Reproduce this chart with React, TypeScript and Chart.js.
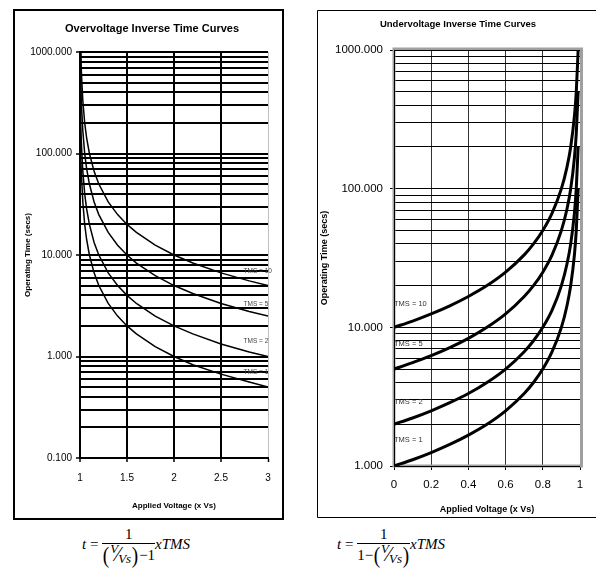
import React, { useEffect, useRef } from 'react';
import { Chart, registerables } from 'chart.js';

Chart.register(...registerables);

const FONT = 'Arial, "Liberation Sans", sans-serif';
const SERIF = '"Liberation Serif", "Times New Roman", serif';

// ---------- Overvoltage data ----------
const overVoltage = [1.001, 1.002, 1.005, 1.01, 1.02, 1.03, 1.05, 1.07, 1.1, 1.15, 1.2, 1.3, 1.4, 1.5, 1.6, 1.8, 2.0, 2.2, 2.5, 2.8, 3.0];
const overTms10 = [10000, 5000, 2000, 1000, 500, 333, 200, 143, 100, 66.7, 50, 33.3, 25, 20, 16.7, 12.5, 10, 8.33, 6.67, 5.56, 5];
const overTms5 = [5000, 2500, 1000, 500, 250, 167, 100, 71.4, 50, 33.3, 25, 16.7, 12.5, 10, 8.33, 6.25, 5, 4.17, 3.33, 2.78, 2.5];
const overTms2 = [2000, 1000, 400, 200, 100, 66.7, 40, 28.6, 20, 13.3, 10, 6.67, 5, 4, 3.33, 2.5, 2, 1.67, 1.33, 1.11, 1];
const overTms1 = [1000, 500, 200, 100, 50, 33.3, 20, 14.3, 10, 6.67, 5, 3.33, 2.5, 2, 1.67, 1.25, 1, 0.83, 0.67, 0.56, 0.5];
const overXTicks = [1, 1.5, 2, 2.5, 3];
const overDecades = [0.1, 1, 10, 100];
const overYMax = 1000;
const overLabels = ['TMS = 10', 'TMS = 5', 'TMS = 2', 'TMS = 1'];
const overLabelX = [2.74, 2.74, 2.74, 2.74];
const overLabelY = [7.0, 3.3, 1.4, 0.7];

// ---------- Undervoltage data ----------
const underVoltage = [0, 0.1, 0.2, 0.3, 0.4, 0.5, 0.6, 0.7, 0.75, 0.8, 0.85, 0.9, 0.93, 0.95, 0.97, 0.98, 0.99];
const underTms10 = [10, 11.1, 12.5, 14.3, 16.7, 20, 25, 33.3, 40, 50, 66.7, 100, 143, 200, 333, 500, 1000];
const underTms5 = [5, 5.56, 6.25, 7.14, 8.33, 10, 12.5, 16.7, 20, 25, 33.3, 50, 71.4, 100, 167, 250, 500];
const underTms2 = [2, 2.22, 2.5, 2.86, 3.33, 4, 5, 6.67, 8, 10, 13.3, 20, 28.6, 40, 66.7, 100, 200];
const underTms1 = [1, 1.11, 1.25, 1.43, 1.67, 2, 2.5, 3.33, 4, 5, 6.67, 10, 14.3, 20, 33.3, 50, 100];
const underXTicks = [0, 0.2, 0.4, 0.6, 0.8, 1];
const underDecades = [1, 10, 100];
const underYMax = 1000;
const underLabels = ['TMS = 10', 'TMS = 5', 'TMS = 2', 'TMS = 1'];
const underLabelX = [0, 0, 0, 0];
const underLabelY = [14.8, 7.6, 2.9, 1.54];

const minorSteps = [1, 2, 3, 4, 5, 6, 7, 8, 9];

const isDecade = (v: number) => {
  const l = Math.log10(v);
  return Math.abs(l - Math.round(l)) < 1e-9;
};

const logGrid = (decades: number[], max: number) => {
  const vals: number[] = [];
  decades.forEach((d) => minorSteps.forEach((m) => vals.push(d * m)));
  vals.push(max);
  return vals;
};

type Decor = {
  title: string;
  titleFont: string;
  titleX: number;
  titleY: number;
  frameWidth: number;
  frameAll: boolean;
  plotBorder: boolean;
  labels: string[];
  labelX: number[];
  labelY: number[];
  labelFont: string;
  labelColor: string;
};

const makeDecor = (d: Decor) => ({
  id: 'decor',
  beforeDatasetsDraw(chart: any) {
    if (!d.plotBorder) return;
    const { ctx, chartArea } = chart;
    ctx.save();
    ctx.strokeStyle = '#a0a0a0';
    ctx.lineWidth = 3;
    ctx.strokeRect(chartArea.left, chartArea.top - 1, chartArea.right - chartArea.left + 1.5, chartArea.bottom - chartArea.top + 1);
    ctx.restore();
    ctx.save();
    ctx.strokeStyle = '#000';
    ctx.lineWidth = 1;
    ctx.beginPath();
    ctx.moveTo(chartArea.left + 0.5, chartArea.top);
    ctx.lineTo(chartArea.left + 0.5, chartArea.bottom + 0.5);
    ctx.lineTo(chartArea.right, chartArea.bottom + 0.5);
    ctx.moveTo(chartArea.left, chartArea.top + 0.5);
    ctx.lineTo(chartArea.right, chartArea.top + 0.5);
    ctx.stroke();
    ctx.restore();
  },
  afterDraw(chart: any) {
    const { ctx, width, height } = chart;
    ctx.save();
    ctx.strokeStyle = '#000';
    const lw = d.frameWidth;
    ctx.lineWidth = lw;
    if (d.frameAll) {
      ctx.strokeRect(lw / 2, lw / 2, width - lw, height - lw);
    } else {
      ctx.beginPath();
      ctx.moveTo(width + 5, lw / 2);
      ctx.lineTo(lw / 2, lw / 2);
      ctx.lineTo(lw / 2, height - lw / 2);
      ctx.lineTo(width + 5, height - lw / 2);
      ctx.stroke();
    }
    ctx.fillStyle = '#000';
    ctx.font = d.titleFont;
    ctx.textAlign = 'center';
    ctx.textBaseline = 'middle';
    ctx.fillText(d.title, d.titleX, d.titleY);
    const xs = chart.scales.x;
    const ys = chart.scales.y;
    ctx.font = d.labelFont;
    ctx.fillStyle = d.labelColor;
    ctx.textAlign = 'left';
    d.labels.forEach((t, i) => {
      ctx.fillText(t, xs.getPixelForValue(d.labelX[i]), ys.getPixelForValue(d.labelY[i]));
    });
    ctx.restore();
  },
});

const series = (xs: number[], ys: number[]) => xs.map((x, i) => ({ x, y: ys[i] }));

function OverChart() {
  const ref = useRef<HTMLCanvasElement>(null);
  useEffect(() => {
    const yGrid = logGrid(overDecades, overYMax);
    const chart = new Chart(ref.current as HTMLCanvasElement, {
      type: 'scatter',
      data: {
        datasets: [overTms10, overTms5, overTms2, overTms1].map((arr) => ({
          data: series(overVoltage, arr),
          showLine: true,
          borderColor: '#000',
          borderWidth: 1.5,
          pointRadius: 0,
          fill: false,
        })),
      },
      options: {
        animation: false,
        responsive: false,
        devicePixelRatio: 1,
        events: [],
        layout: { padding: { left: 2, right: 16, top: 43, bottom: 7 } },
        plugins: { legend: { display: false }, tooltip: { enabled: false }, title: { display: false } },
        scales: {
          x: {
            type: 'linear',
            min: 1,
            max: 3,
            afterBuildTicks: (s: any) => { s.ticks = overXTicks.map((v) => ({ value: v })); },
            ticks: { autoSkip: false, maxRotation: 0, font: { size: 10, family: FONT }, color: '#000', padding: 10, callback: (v: any) => String(v) },
            grid: {
              color: (c: any) => (c.tick && c.tick.value === 3 ? '#c0c0c0' : '#000'),
              lineWidth: (c: any) => (c.tick && c.tick.value === 3 ? 1 : 2),
              tickLength: 4,
              tickColor: '#000',
              tickWidth: 1.5,
            },
            border: { color: '#000', width: 2 },
            title: { display: true, text: 'Applied Voltage (x Vs)', color: '#000', font: { size: 8, weight: 'bold', family: FONT, lineHeight: 1 }, padding: { top: 0, bottom: 3 } },
            afterFit: (s: any) => { s.height = 55; },
          },
          y: {
            type: 'logarithmic',
            min: 0.1,
            max: overYMax,
            afterBuildTicks: (s: any) => { s.ticks = yGrid.map((v) => ({ value: v })); },
            ticks: { autoSkip: false, font: { size: 10, family: FONT }, color: '#000', padding: 4, callback: (v: any) => (isDecade(Number(v)) ? Number(v).toFixed(3) : '') },
            grid: {
              color: '#000',
              lineWidth: 2,
              tickLength: 4,
              tickWidth: 1.5,
              tickColor: (c: any) => (c.tick && isDecade(c.tick.value) ? '#000' : 'rgba(0,0,0,0)'),
            },
            border: { color: '#000', width: 2 },
            title: { display: true, text: 'Operating Time (secs)', color: '#000', font: { size: 8, weight: 'bold', family: FONT, lineHeight: 1 }, padding: { top: 9, bottom: 0 } },
            afterFit: (s: any) => { s.width = 65; },
          },
        },
      } as any,
      plugins: [
        makeDecor({
          title: 'Overvoltage Inverse Time Curves',
          titleFont: `bold 11px ${FONT}`,
          titleX: 139,
          titleY: 20,
          frameWidth: 2,
          frameAll: true,
          plotBorder: false,
          labels: overLabels,
          labelX: overLabelX,
          labelY: overLabelY,
          labelFont: `6.5px ${FONT}`,
          labelColor: '#444',
        }) as any,
      ],
    });
    return () => chart.destroy();
  }, []);
  return <canvas ref={ref} width={271} height={511} style={{ position: 'absolute', left: 13, top: 9, width: 271, height: 511 }} />;
}

function UnderChart() {
  const ref = useRef<HTMLCanvasElement>(null);
  useEffect(() => {
    const yGrid = logGrid(underDecades, underYMax);
    const chart = new Chart(ref.current as HTMLCanvasElement, {
      type: 'scatter',
      data: {
        datasets: [underTms10, underTms5, underTms2, underTms1].map((arr) => ({
          data: series(underVoltage, arr),
          showLine: true,
          borderColor: '#000',
          borderWidth: 3,
          pointRadius: 0,
          fill: false,
          cubicInterpolationMode: 'monotone',
        })),
      },
      options: {
        animation: false,
        responsive: false,
        devicePixelRatio: 1,
        events: [],
        layout: { padding: { left: 1, right: 16, top: 40, bottom: 2 } },
        plugins: { legend: { display: false }, tooltip: { enabled: false }, title: { display: false } },
        scales: {
          x: {
            type: 'linear',
            min: 0,
            max: 1,
            afterBuildTicks: (s: any) => { s.ticks = underXTicks.map((v) => ({ value: v })); },
            ticks: { autoSkip: false, maxRotation: 0, font: { size: 11.5, family: FONT }, color: '#000', padding: 8, callback: (v: any) => String(v) },
            grid: {
              color: (c: any) => (c.tick && c.tick.value === 1 ? 'rgba(0,0,0,0)' : '#333'),
              lineWidth: 1,
              tickLength: 4,
              tickColor: '#000',
              tickWidth: 1,
            },
            border: { color: '#000', width: 1 },
            title: { display: true, text: 'Applied Voltage (x Vs)', color: '#000', font: { size: 9, weight: 'bold', family: FONT, lineHeight: 1 }, padding: { top: 0, bottom: 1.5 } },
            afterFit: (s: any) => { s.height = 50; },
          },
          y: {
            type: 'logarithmic',
            min: 1,
            max: underYMax,
            afterBuildTicks: (s: any) => { s.ticks = yGrid.map((v) => ({ value: v })); },
            ticks: { autoSkip: false, font: { size: 11.5, family: FONT }, color: '#000', padding: 7, callback: (v: any) => (isDecade(Number(v)) ? Number(v).toFixed(3) : '') },
            grid: {
              color: '#000',
              lineWidth: 1,
              tickLength: 4,
              tickWidth: 1,
              tickColor: (c: any) => (c.tick && isDecade(c.tick.value) ? '#000' : 'rgba(0,0,0,0)'),
            },
            border: { color: '#000', width: 1 },
            title: { display: true, text: 'Operating Time (secs)', color: '#000', font: { size: 9, weight: 'bold', family: FONT, lineHeight: 1 }, padding: { top: 2.5, bottom: 0 } },
            afterFit: (s: any) => { s.width = 76; },
          },
        },
      } as any,
      plugins: [
        makeDecor({
          title: 'Undervoltage Inverse Time Curves',
          titleFont: `bold 9.5px ${FONT}`,
          titleX: 141,
          titleY: 14,
          frameWidth: 1,
          frameAll: false,
          plotBorder: true,
          labels: underLabels,
          labelX: underLabelX,
          labelY: underLabelY,
          labelFont: `7.5px ${FONT}`,
          labelColor: '#333',
        }) as any,
      ],
    });
    return () => chart.destroy();
  }, []);
  return <canvas ref={ref} width={279} height={508} style={{ position: 'absolute', left: 317, top: 10, width: 279, height: 508 }} />;
}

// slanted fraction (V/Vs) wrapped in tall parentheses
const Slant = () => (
  <span style={{ display: 'inline-flex', alignItems: 'center', height: 22 }}>
    <span style={{ fontSize: 24, fontStyle: 'normal', lineHeight: '22px', transform: 'scaleX(0.8)', display: 'inline-block' }}>(</span>
    <span style={{ position: 'relative', display: 'inline-block', width: 21, height: 22 }}>
      <i style={{ position: 'absolute', left: 0, top: -3, fontSize: 13, lineHeight: '16px' }}>V</i>
      <span style={{ position: 'absolute', left: 6, top: 0, fontSize: 20, lineHeight: '20px', fontStyle: 'normal' }}>⁄</span>
      <i style={{ position: 'absolute', left: 8, top: 7, fontSize: 13, lineHeight: '16px' }}>Vs</i>
    </span>
    <span style={{ fontSize: 24, fontStyle: 'normal', lineHeight: '22px', transform: 'scaleX(0.8)', display: 'inline-block' }}>)</span>
  </span>
);

function Formula({ left, top, denom }: { left: number; top: number; denom: React.ReactNode }) {
  return (
    <div style={{ position: 'absolute', left, top, display: 'flex', alignItems: 'center', fontFamily: SERIF, fontSize: 15, color: '#000' }}>
      <span style={{ whiteSpace: 'pre' }}><i>t</i> = </span>
      <div style={{ display: 'flex', flexDirection: 'column', alignItems: 'stretch', marginTop: 4 }}>
        <div style={{ textAlign: 'center', borderBottom: '1px solid #000', lineHeight: '17px' }}>1</div>
        <div style={{ display: 'flex', alignItems: 'center', justifyContent: 'center', height: 22, whiteSpace: 'nowrap' }}>{denom}</div>
      </div>
      <i>xTMS</i>
    </div>
  );
}

export default function App() {
  return (
    <div style={{ position: 'absolute', left: 0, top: 0, width: 596, height: 581, background: '#fff', overflow: 'hidden' }}>
      <OverChart />
      <UnderChart />
      <Formula left={82} top={522} denom={<><Slant /><span>−1</span></>} />
      <Formula left={337} top={522} denom={<><span>1−</span><Slant /></>} />
    </div>
  );
}
